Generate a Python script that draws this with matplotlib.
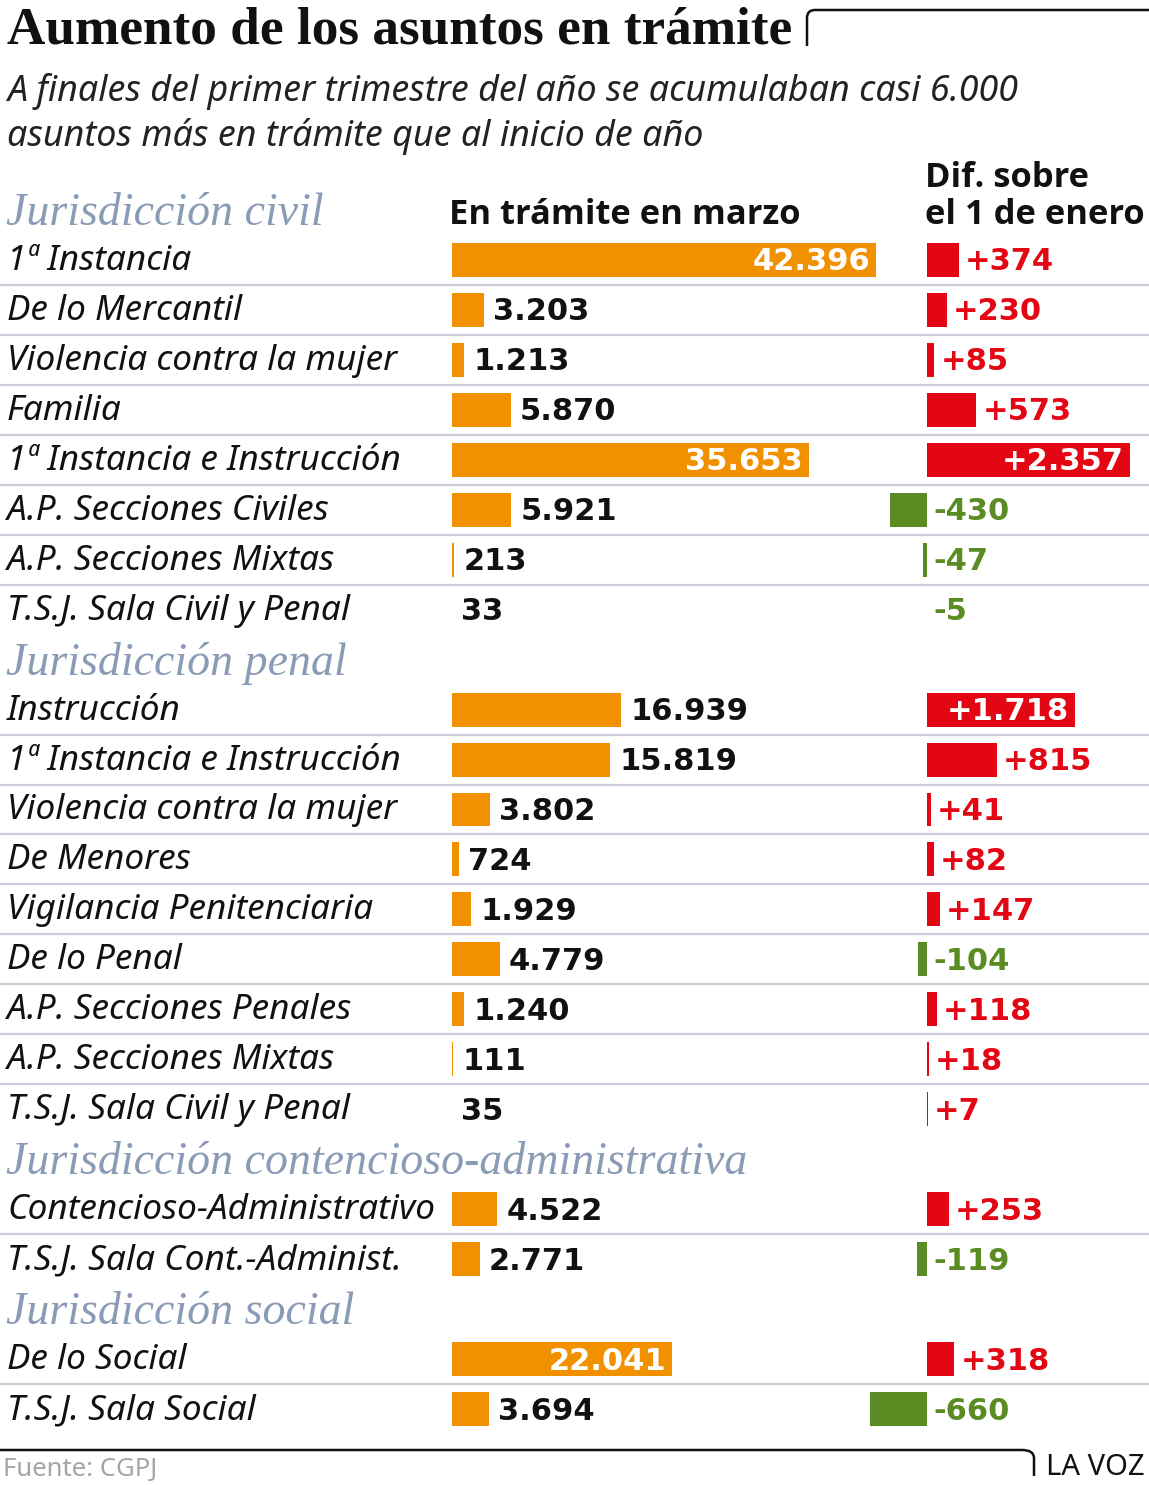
import matplotlib
matplotlib.use("Agg")
import matplotlib.pyplot as plt
from matplotlib import font_manager as fm
from matplotlib.path import Path
from matplotlib.patches import PathPatch

# ---------------- data ----------------
title = "Aumento de los asuntos en trámite"
subtitle_lines = ["A finales del primer trimestre del año se acumulaban casi 6.000",
                  "asuntos más en trámite que al inicio de año"]
col_header_main = "En trámite en marzo"
col_header_diff = ["Dif. sobre", "el 1 de enero"]
source = "Fuente: CGPJ"
brand = "LA VOZ"

section_titles = ["Jurisdicción civil", "Jurisdicción penal",
                  "Jurisdicción contencioso-administrativa", "Jurisdicción social"]

civil_labels = ["1ª Instancia", "De lo Mercantil", "Violencia contra la mujer", "Familia",
                "1ª Instancia e Instrucción", "A.P. Secciones Civiles",
                "A.P. Secciones Mixtas", "T.S.J. Sala Civil y Penal"]
civil_values = [42396, 3203, 1213, 5870, 35653, 5921, 213, 33]
civil_diff = [374, 230, 85, 573, 2357, -430, -47, -5]

penal_labels = ["Instrucción", "1ª Instancia e Instrucción", "Violencia contra la mujer",
                "De Menores", "Vigilancia Penitenciaria", "De lo Penal",
                "A.P. Secciones Penales", "A.P. Secciones Mixtas", "T.S.J. Sala Civil y Penal"]
penal_values = [16939, 15819, 3802, 724, 1929, 4779, 1240, 111, 35]
penal_diff = [1718, 815, 41, 82, 147, -104, 118, 18, 7]

cont_labels = ["Contencioso-Administrativo", "T.S.J. Sala Cont.-Administ."]
cont_values = [4522, 2771]
cont_diff = [253, -119]

social_labels = ["De lo Social", "T.S.J. Sala Social"]
social_values = [22041, 3694]
social_diff = [318, -660]

sections = [
    (section_titles[0], civil_labels, civil_values, civil_diff),
    (section_titles[1], penal_labels, penal_values, penal_diff),
    (section_titles[2], cont_labels, cont_values, cont_diff),
    (section_titles[3], social_labels, social_values, social_diff),
]

# ---------------- style ----------------
ORANGE = "#F29100"
RED = "#E30613"
GREEN = "#5A8C23"
HEAD_BLUE = "#8A9BB6"
GRID = "#C9CFD9"

flist = fm.fontManager.ttflist
def pick(cands, style="normal", bold=False):
    for c in cands:
        for f in flist:
            if f.name != c or f.style != style:
                continue
            w = f.weight if isinstance(f.weight, int) else 400
            if (bold and w >= 600) or (not bold and 350 <= w <= 500):
                return c
    return "DejaVu Sans"

SERIF = "Liberation Serif"
LABEL = pick(["Noto Sans", "Open Sans", "Lato"], style="italic")
HEADF = pick(["Noto Sans", "Open Sans", "Lato"], bold=True)
VALF = "DejaVu Sans"
FOOT = pick(["Noto Sans", "Open Sans", "Lato"])

W, H = 1149, 1486
fig = plt.figure(figsize=(W / 100, H / 100), dpi=100)
fig.patch.set_facecolor("white")

slots = []
for title_s, labels, values, diffs in sections:
    slots.append(("head", title_s, None, None, None))
    for k, (lab, v, d) in enumerate(zip(labels, values, diffs)):
        slots.append(("row", lab, v, d, k < len(labels) - 1))
n = len(slots)

top_px, bot_px = 185, 1434
ax_b = 1 - bot_px / H
ax_h = (bot_px - top_px) / H

bg = fig.add_axes([0, ax_b, 1, ax_h])
bg.set_xlim(0, W)
bg.set_ylim(n - 0.5, -0.5)
bg.axis("off")

main_l, main_r = 452, 905
px_per_unit = 0.01
main = fig.add_axes([main_l / W, ax_b, (main_r - main_l) / W, ax_h])
main.set_xlim(0, (main_r - main_l) / px_per_unit)
main.set_ylim(n - 0.5, -0.5)
main.axis("off")

d_l, d_zero, d_r = 850, 927, W
d_ppu = 0.086
dax = fig.add_axes([d_l / W, ax_b, (d_r - d_l) / W, ax_h])
dax.set_xlim(-(d_zero - d_l) / d_ppu, (d_r - d_zero) / d_ppu)
dax.set_ylim(n - 0.5, -0.5)
dax.axis("off")

PT = 72 / 100
BAR_H = 0.68
VSIZE = 22
DY = -2 * PT

def fmt(v):
    return f"{abs(v):,}".replace(",", ".")

for i, (kind, lab, v, d, sep) in enumerate(slots):
    if kind == "head":
        bg.text(6, i + 0.08, lab, family=SERIF, style="italic", fontsize=33,
                color=HEAD_BLUE, va="center", ha="left")
        continue
    bg.text(7, i + 0.02, lab, family=LABEL, style="italic",
            fontsize=25.3, color="#111111", va="center", ha="left")
    if sep:
        bg.plot([0, W], [i + 0.5, i + 0.5], color=GRID, lw=1.6, solid_capstyle="butt")
    main.barh(i, v, height=BAR_H, color=ORANGE, left=0)
    if v >= 20000:
        main.annotate(fmt(v), xy=(v, i), xytext=(-6 * PT, DY), textcoords="offset points",
                      ha="right", va="center", family=VALF, weight="bold",
                      fontsize=VSIZE, color="white")
    else:
        main.annotate(fmt(v), xy=(v, i), xytext=(9 * PT, DY), textcoords="offset points",
                      ha="left", va="center", family=VALF, weight="bold",
                      fontsize=VSIZE, color="#111111")
    col = RED if d > 0 else GREEN
    dax.barh(i, d, height=BAR_H, color=col, left=0)
    txt = ("+" if d > 0 else "-") + fmt(d)
    if d >= 1000:
        dax.annotate(txt, xy=(d, i), xytext=(-6 * PT, DY), textcoords="offset points",
                     ha="right", va="center", family=VALF, weight="bold",
                     fontsize=VSIZE, color="white")
    else:
        xa = d if d > 0 else 0
        dax.annotate(txt, xy=(xa, i), xytext=(6 * PT, DY), textcoords="offset points",
                     ha="left", va="center", family=VALF, weight="bold",
                     fontsize=VSIZE, color=col)

ov = fig.add_axes([0, 0, 1, 1], zorder=-1)
ov.set_xlim(0, W)
ov.set_ylim(H, 0)
ov.axis("off")

ov.text(7, 44, title, family=SERIF, weight="bold", fontsize=38.3, color="#111111",
        ha="left", va="baseline")
ov.text(7, 101, subtitle_lines[0], family=LABEL, style="italic",
        fontsize=25.8, color="#222222", ha="left", va="baseline")
ov.text(7, 146, subtitle_lines[1], family=LABEL, style="italic",
        fontsize=25.8, color="#222222", ha="left", va="baseline")
ov.text(449, 224, col_header_main, family=HEADF, weight="bold", fontsize=24.8,
        color="#111111", ha="left", va="baseline")
ov.text(925, 187, col_header_diff[0], family=HEADF, weight="bold", fontsize=24.8,
        color="#111111", ha="left", va="baseline")
ov.text(925, 224, col_header_diff[1], family=HEADF, weight="bold", fontsize=24.8,
        color="#111111", ha="left", va="baseline")

r = 8
codes = [Path.MOVETO, Path.LINETO, Path.CURVE3, Path.CURVE3, Path.LINETO]
verts = [(807, 46), (807, 10 + r), (807, 10), (807 + r, 10), (W, 10)]
ov.add_patch(PathPatch(Path(verts, codes), fill=False, lw=1.8, edgecolor="#111111"))
verts = [(0, 1450), (1030 - r, 1450), (1034, 1450), (1034, 1450 + r), (1034, 1476)]
ov.add_patch(PathPatch(Path(verts, codes), fill=False, lw=1.8, edgecolor="#111111"))

ov.text(3, 1476, source, family=FOOT, fontsize=18.5, color="#A5A5A5", ha="left",
        va="baseline")
ov.text(1145, 1475, brand, family=FOOT, fontsize=21, color="#111111", ha="right",
        va="baseline")

fig.savefig("out.png", dpi=100, facecolor="white")
